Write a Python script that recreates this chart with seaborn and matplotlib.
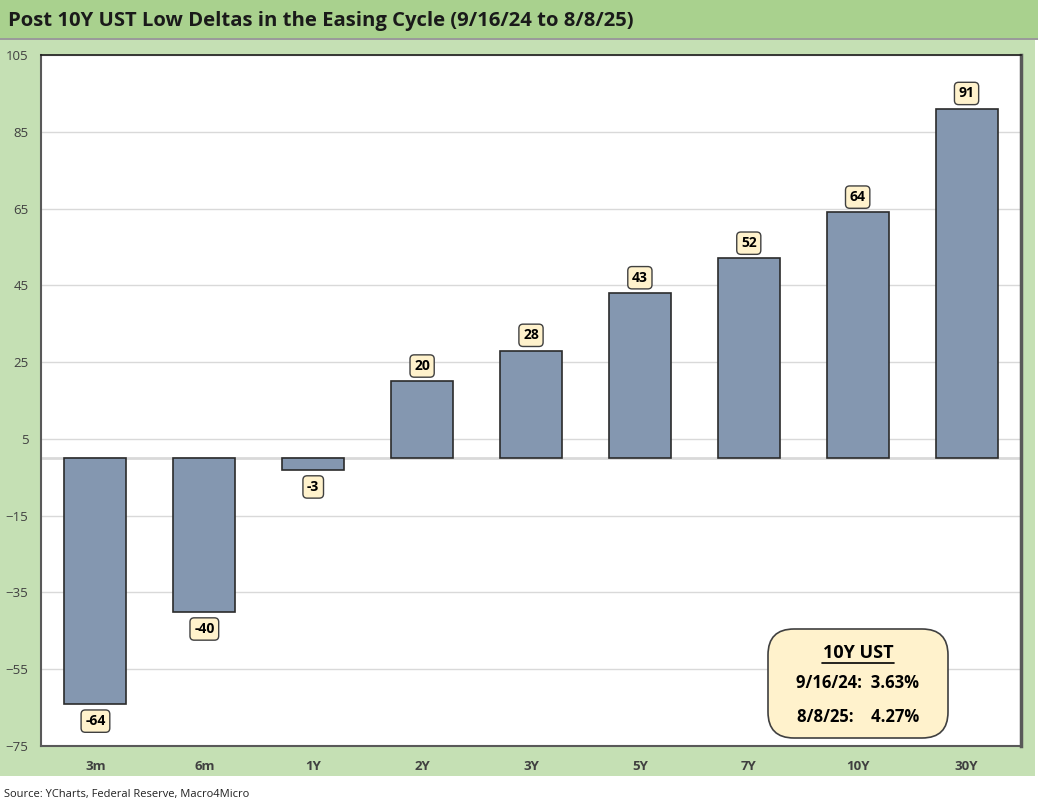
import matplotlib
matplotlib.use("Agg")
import matplotlib.pyplot as plt
import seaborn as sns
import pandas as pd
from matplotlib.patches import Rectangle, FancyBboxPatch

categories = ["3m", "6m", "1Y", "2Y", "3Y", "5Y", "7Y", "10Y", "30Y"]
deltas = [-64, -40, -3, 20, 28, 43, 52, 64, 91]
yticks = [-75, -55, -35, -15, 5, 25, 45, 65, 85, 105]
title = "Post 10Y UST Low Deltas in the Easing Cycle (9/16/24 to 8/8/25)"
source = "Source: YCharts, Federal Reserve, Macro4Micro"
box_title = "10Y UST"
box_lines = ["9/16/24:  3.63%", "8/8/25:    4.27%"]

sns.set_theme(style="white")
plt.rcParams['font.family'] = ['Open Sans', 'DejaVu Sans']

W, H = 1038, 808
fig = plt.figure(figsize=(W / 100, H / 100), dpi=100)
fig.patch.set_facecolor("white")

# background bands
fig.patches.append(Rectangle((0, 1 - 38 / H), 1, 38 / H, transform=fig.transFigure,
                             facecolor="#a9d18e", edgecolor="none", zorder=-2))
fig.patches.append(Rectangle((0, 1 - 40 / H), 1, 2 / H, transform=fig.transFigure,
                             facecolor="#9a9a9a", edgecolor="none", zorder=-2))
fig.patches.append(Rectangle((0, 1 - 776 / H), 1035 / W, (776 - 40) / H, transform=fig.transFigure,
                             facecolor="#c5e0b4", edgecolor="none", zorder=-2))

fig.text(8 / W, 1 - 21 / H, title, fontsize=14.6, fontweight="bold", color="#1a1a1a",
         va="center", ha="left")
fig.text(4 / W, 1 - 795 / H, source, fontsize=8, color="#222222", va="center", ha="left")

ax = fig.add_axes([41 / W, 1 - 746 / H, (1021 - 41) / W, (746 - 55) / H])
df = pd.DataFrame({"tenor": categories, "delta": deltas})
sns.barplot(data=df, x="tenor", y="delta", ax=ax, color="#8497b0", saturation=1,
            width=0.57, edgecolor="#2b2b2b", linewidth=1.2, zorder=3)

ax.set_ylim(-75, 105)
ax.set_yticks(yticks)
ax.set_xlim(-0.5, len(categories) - 0.5)
ax.grid(axis="y", color="#d9d9d9", linewidth=1, zorder=0)
ax.axhline(0, color="#d9d9d9", linewidth=2, zorder=1)
ax.set_xlabel("")
ax.set_ylabel("")
ax.tick_params(axis="y", labelsize=9.5, colors="#404040", length=0, pad=9)
ax.tick_params(axis="x", labelsize=9.5, colors="#404040", length=0, pad=10)
for lbl in ax.get_xticklabels():
    lbl.set_fontweight("bold")
for s in ["left", "bottom"]:
    ax.spines[s].set_color("#595959")
    ax.spines[s].set_linewidth(1.5)
ax.spines["top"].set_color("#1a1a1a")
ax.spines["top"].set_linewidth(1.2)
ax.spines["right"].set_color("#595959")
ax.spines["right"].set_linewidth(2.5)
ax.set_facecolor("white")

for i, v in enumerate(deltas):
    ax.annotate(str(v), (i, v), xytext=(0, 11 if v >= 0 else -12.5), textcoords="offset points",
                ha="center", va="center", fontsize=10, fontweight="bold", color="black",
                bbox=dict(boxstyle="round,pad=0.3,rounding_size=0.3", facecolor="#fff2cc",
                          edgecolor="#404040", linewidth=1), zorder=5)

# info box
bx0, by0, bw, bh = 768 / W, 1 - 738 / H, (948 - 768) / W, (738 - 629) / H
fig.patches.append(FancyBboxPatch((bx0, by0), bw, bh, transform=fig.transFigure,
                                  boxstyle="round,pad=0,rounding_size=0.025",
                                  facecolor="#fff2cc", edgecolor="#404040", linewidth=1.2,
                                  zorder=10, mutation_aspect=W / H))
cx = 858 / W
fig.text(cx, 1 - 653 / H, box_title, fontsize=13, fontweight="bold", ha="center",
         va="center", color="black", zorder=11)
fig.add_artist(plt.Line2D([822 / W, 894 / W], [1 - 663 / H, 1 - 663 / H],
                          transform=fig.transFigure, color="black", linewidth=1.2, zorder=11))
fig.text(cx, 1 - 683 / H, box_lines[0], fontsize=12, fontweight="bold", ha="center",
         va="center", color="black", zorder=11)
fig.text(cx, 1 - 717 / H, box_lines[1], fontsize=12, fontweight="bold", ha="center",
         va="center", color="black", zorder=11)

fig.savefig("out.png", dpi=100, facecolor=fig.get_facecolor())
